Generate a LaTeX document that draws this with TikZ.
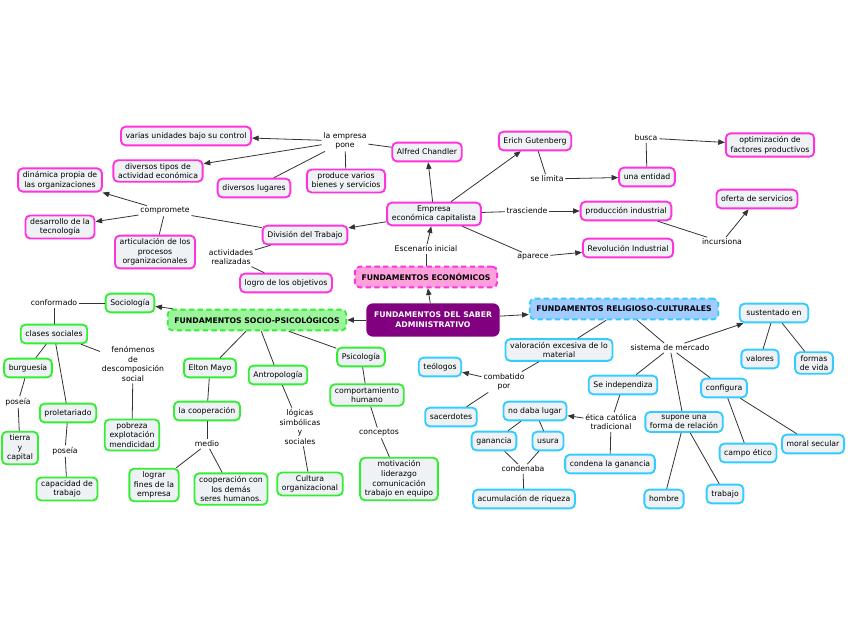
\documentclass[tikz,border=0pt]{standalone}
\usepackage{fontspec}
\newfontfamily\cfont{DejaVu Sans}
\usetikzlibrary{arrows.meta}
\definecolor{pinkb}{HTML}{FF33DD}
\definecolor{greenb}{HTML}{33EE33}
\definecolor{blueb}{HTML}{33CCFF}
\definecolor{boxfill}{HTML}{EEF2F4}
\definecolor{econfill}{HTML}{FFA0DC}
\definecolor{sociofill}{HTML}{9CF59C}
\definecolor{religfill}{HTML}{A0CCFF}
\definecolor{rootfill}{HTML}{800080}
\definecolor{linec}{HTML}{333333}
\tikzset{
  txt/.style={font=\cfont\fontsize{5.8}{7.2}\selectfont, align=center},
  base/.style={txt, rounded corners=3.5pt, line width=1.4pt, inner xsep=3.5pt, inner ysep=2.2pt, minimum height=14pt, fill=boxfill},
  pk/.style={base, draw=pinkb},
  gr/.style={base, draw=greenb},
  bl/.style={base, draw=blueb},
  lab/.style={txt, inner sep=1.2pt},
  grp/.style={txt, font=\cfont\bfseries\fontsize{5.8}{7.2}\selectfont, rounded corners=3.5pt, line width=1.4pt, dash pattern=on 4pt off 2.5pt, inner xsep=5pt, minimum height=15.5pt},
  econ/.style={grp, draw=pinkb, fill=econfill},
  socio/.style={grp, draw=greenb, fill=sociofill},
  relig/.style={grp, draw=blueb, fill=religfill},
  rootbox/.style={txt, font=\cfont\bfseries\fontsize{5.8}{7.5}\selectfont, text=white, fill=rootfill, rounded corners=5pt, minimum width=100pt, minimum height=25pt},
  con/.style={line width=0.6pt, draw=linec},
  arr/.style={con, -{Triangle[length=5pt,width=4pt]}},
}
\begin{document}
\begin{tikzpicture}[x=0.75pt,y=-0.75pt]
\useasboundingbox[fill=white] (0,0) rectangle (848,638);
% central
\node[rootbox] (root) at (433,320) {FUNDAMENTOS DEL SABER\\ADMINISTRATIVO};
\node[econ] (fecon) at (426,277) {FUNDAMENTOS ECONÓMICOS};
\node[socio] (fsocio) at (257,320) {FUNDAMENTOS SOCIO-PSICOLÓGICOS};
\node[relig] (frel) at (624,309) {FUNDAMENTOS RELIGIOSO-CULTURALES};
% economic
\node[pk] (varias) at (186,136) {varias unidades bajo su control};
\node[lab] (pone) at (345,141) {la empresa\\pone};
\node[pk] (chandler) at (427,152) {Alfred Chandler};
\node[pk] (tipos) at (158,171) {diversos tipos de\\actividad económica};
\node[pk] (lugares) at (254,188) {diversos lugares};
\node[pk] (produce) at (346,181) {produce varios\\bienes y servicios};
\node[pk] (dinamica) at (60,180) {dinámica propia de\\las organizaciones};
\node[lab] (compromete) at (165,211) {compromete};
\node[pk] (desarrollo) at (60,227) {desarrollo de la\\tecnología};
\node[pk] (articulacion) at (155,252) {articulación de los\\procesos\\organizacionales};
\node[pk] (division) at (305,235) {División del Trabajo};
\node[lab] (actividades) at (231,257) {actividades\\realizadas};
\node[pk] (logro) at (286,283) {logro de los objetivos};
\node[pk] (empresa) at (434,214) {Empresa\\económica capitalista};
\node[pk] (erich) at (535,141) {Erich Gutenberg};
\node[lab] (selimita) at (547,179) {se limita};
\node[pk] (entidad) at (647,177) {una entidad};
\node[lab] (busca) at (646,138) {busca};
\node[pk] (optim) at (770,145) {optimización de\\factores productivos};
\node[lab] (trasciende) at (527,211) {trasciende};
\node[pk] (produccion) at (626,211) {producción industrial};
\node[pk] (oferta) at (757,199) {oferta de servicios};
\node[lab] (incursiona) at (722,242) {incursiona};
\node[pk] (revolucion) at (628,248) {Revolución Industrial};
\node[lab] (aparece) at (533,257) {aparece};
\node[lab] (escenario) at (426,249) {Escenario inicial};
% socio
\node[gr] (sociologia) at (130,303) {Sociología};
\node[lab] (conformado) at (54,303) {conformado};
\node[gr] (clases) at (54,334) {clases sociales};
\node[lab] (fenomenos) at (133,364) {fenómenos\\de\\descomposición\\social};
\node[gr] (burguesia) at (28,368) {burguesía};
\node[lab] (poseiaA) at (18,402) {poseía};
\node[gr, minimum width=27pt] (tierra) at (20,448) {tierra\\y\\capital};
\node[gr] (proletariado) at (68,413) {proletariado};
\node[lab] (poseiaB) at (65,451) {poseía};
\node[gr] (capacidad) at (67,489) {capacidad de\\trabajo};
\node[gr] (pobreza) at (132,435) {pobreza\\explotación\\mendicidad};
\node[gr] (elton) at (210,368) {Elton Mayo};
\node[gr] (cooperacion) at (207,411) {la cooperación};
\node[lab] (medio) at (207,444) {medio};
\node[gr] (lograr) at (154,485) {lograr\\fines de la\\empresa};
\node[gr] (coopcon) at (231,489) {cooperación con\\los demás\\seres humanos.};
\node[gr] (antropologia) at (278,375) {Antropología};
\node[lab] (logicas) at (300,427) {lógicas\\simbólicas\\y\\sociales};
\node[gr] (cultura) at (310,484) {Cultura\\organizacional};
\node[gr] (psicologia) at (361,357) {Psicología};
\node[gr] (comport) at (367,395) {comportamiento\\humano};
\node[lab] (conceptos) at (379,433) {conceptos};
\node[gr] (motivacion) at (399,479) {motivación\\liderazgo\\comunicación\\trabajo en equipo};
% religious
\node[bl] (valoracion) at (559,350) {valoración excesiva de lo\\material};
\node[lab] (combatido) at (504,382) {combatido\\por};
\node[bl] (teologos) at (440,367) {teólogos};
\node[bl] (sacerdotes) at (451,417) {sacerdotes};
\node[bl] (nodaba) at (535,411) {no daba lugar};
\node[bl] (ganancia) at (494,441) {ganancia};
\node[bl] (usura) at (548,441) {usura};
\node[lab] (condenaba) at (523,469) {condenaba};
\node[bl] (acumulacion) at (524,499) {acumulación de riqueza};
\node[lab] (etica) at (611,422) {ética católica\\tradicional};
\node[bl] (independiza) at (623,385) {Se independiza};
\node[bl] (condena) at (610,464) {condena la ganancia};
\node[lab] (sistema) at (670,348) {sistema de mercado};
\node[bl, inner xsep=5pt] (sustentado) at (774,313) {sustentado en};
\node[bl] (valores) at (760,359) {valores};
\node[bl] (formas) at (814,363) {formas\\de vida};
\node[bl] (configura) at (724,388) {configura};
\node[bl] (supone) at (684,422) {supone una\\forma de relación};
\node[bl] (campo) at (748,453) {campo ético};
\node[bl] (moral) at (813,444) {moral secular};
\node[bl] (hombre) at (664,499) {hombre};
\node[bl] (trabajo) at (725,494) {trabajo};
% connectors central
\draw[arr] (root) -- (fecon);
\draw[arr] (root) -- (fsocio);
\draw[arr] (root) -- (frel);
% economic connectors
\draw[con] (fecon) -- (escenario);
\draw[arr] (escenario) -- (empresa);
\draw[arr] (empresa) -- (chandler);
\draw[con] (chandler) -- (pone);
\draw[arr] (pone) -- (varias);
\draw[arr] (pone) -- (tipos);
\draw[con] (pone) -- (lugares);
\draw[con] (pone) -- (produce);
\draw[arr] (empresa) -- (division);
\draw[con] (division) -- (compromete);
\draw[arr] (compromete) -- (dinamica);
\draw[arr] (compromete) -- (desarrollo);
\draw[con] (compromete) -- (articulacion);
\draw[con] (division) -- (actividades);
\draw[con] (actividades) -- (logro);
\draw[arr] (empresa) -- (erich);
\draw[con] (erich) -- (selimita);
\draw[arr] (selimita) -- (entidad);
\draw[con] (entidad) -- (busca);
\draw[arr] (busca) -- (optim);
\draw[con] (empresa) -- (trasciende);
\draw[arr] (trasciende) -- (produccion);
\draw[con] (produccion) -- (incursiona);
\draw[arr] (incursiona) -- (oferta);
\draw[con] (empresa) -- (aparece);
\draw[arr] (aparece) -- (revolucion);
% socio connectors
\draw[arr] (fsocio) -- (sociologia);
\draw[con] (sociologia) -- (conformado);
\draw[con] (conformado) -- (clases);
\draw[con] (clases) -- (burguesia);
\draw[con] (burguesia) -- (poseiaA);
\draw[con] (poseiaA) -- (tierra);
\draw[con] (clases) -- (proletariado);
\draw[con] (proletariado) -- (poseiaB);
\draw[con] (poseiaB) -- (capacidad);
\draw[con] (clases) -- (fenomenos);
\draw[con] (fenomenos) -- (pobreza);
\draw[con] (fsocio) -- (elton);
\draw[con] (elton) -- (cooperacion);
\draw[con] (cooperacion) -- (medio);
\draw[con] (medio) -- (lograr);
\draw[con] (medio) -- (coopcon);
\draw[con] (fsocio) -- (antropologia);
\draw[con] (antropologia) -- (logicas);
\draw[con] (logicas) -- (cultura);
\draw[con] (fsocio) -- (psicologia);
\draw[con] (psicologia) -- (comport);
\draw[con] (comport) -- (conceptos);
\draw[con] (conceptos) -- (motivacion);
% religious connectors
\draw[con] (frel) -- (valoracion);
\draw[con] (valoracion) -- (combatido);
\draw[arr] (combatido) -- (teologos);
\draw[con] (combatido) -- (sacerdotes);
\draw[con] (frel) -- (sistema);
\draw[arr] (sistema) -- (sustentado);
\draw[con] (sustentado) -- (valores);
\draw[con] (sustentado) -- (formas);
\draw[con] (sistema) -- (independiza);
\draw[con] (sistema) -- (supone);
\draw[con] (sistema) -- (configura);
\draw[con] (independiza) -- (etica);
\draw[arr] (etica) -- (nodaba);
\draw[con] (etica) -- (condena);
\draw[con] (nodaba) -- (ganancia);
\draw[con] (nodaba) -- (usura);
\draw[con] (ganancia) -- (condenaba);
\draw[con] (usura) -- (condenaba);
\draw[con] (condenaba) -- (acumulacion);
\draw[con] (supone) -- (hombre);
\draw[con] (supone) -- (trabajo);
\draw[con] (configura) -- (campo);
\draw[con] (configura) -- (moral);
\end{tikzpicture}
\end{document}
